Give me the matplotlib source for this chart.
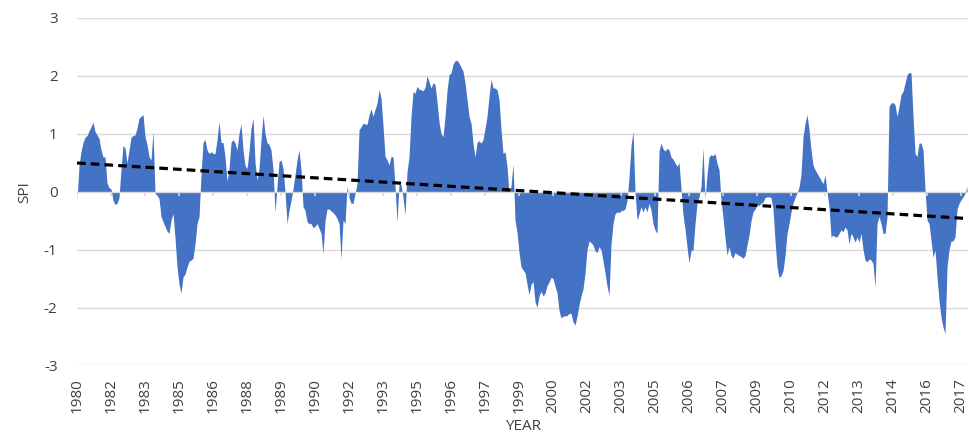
import numpy as np
import matplotlib
matplotlib.use("Agg")
import matplotlib.pyplot as plt

# monthly SPI values
spi = [
    -0.13, 0.45, 0.7, 0.85, 0.94, 0.97, 1.05, 1.12, 1.2, 1.04,
    0.98, 0.92, 0.72, 0.6, 0.6, 0.15, 0.07, 0.05, -0.15, -0.22,
    -0.2, -0.1, 0.4, 0.8, 0.75, 0.5, 0.72, 0.94, 0.97, 0.98,
    1.1, 1.27, 1.3, 1.33, 0.95, 0.81, 0.6, 0.55, 1.04, -0.03,
    -0.06, -0.12, -0.43, -0.52, -0.6, -0.68, -0.72, -0.49, -0.38, -0.8,
    -1.3, -1.6, -1.75, -1.47, -1.42, -1.3, -1.2, -1.18, -1.15, -0.9,
    -0.55, -0.43, 0.3, 0.85, 0.9, 0.72, 0.66, 0.69, 0.66, 0.66,
    0.9, 1.21, 0.85, 0.85, 0.6, 0.18, 0.4, 0.85, 0.9, 0.84,
    0.72, 1.01, 1.17, 0.72, 0.45, 0.4, 0.7, 1.1, 1.27, 0.5,
    0.2, 0.4, 0.9, 1.32, 1.0, 0.84, 0.82, 0.72, 0.38, -0.35,
    0.1, 0.52, 0.55, 0.4, 0.0, -0.55, -0.32, -0.15, 0.05, 0.3,
    0.55, 0.72, 0.38, -0.26, -0.32, -0.52, -0.55, -0.55, -0.62, -0.6,
    -0.55, -0.63, -0.72, -1.07, -0.5, -0.3, -0.3, -0.33, -0.36, -0.4,
    -0.46, -0.55, -1.16, -0.49, -0.55, 0.09, -0.1, -0.2, -0.2, -0.03,
    0.14, 1.07, 1.12, 1.18, 1.17, 1.16, 1.33, 1.43, 1.3, 1.42,
    1.53, 1.76, 1.62, 1.13, 0.61, 0.55, 0.46, 0.61, 0.6, 0.09,
    -0.52, 0.14, 0.12, -0.1, -0.4, 0.35, 0.6, 1.3,
    1.73, 1.7, 1.82, 1.77, 1.76, 1.74, 1.8, 2.0, 1.9, 1.79,
    1.88, 1.85, 1.55, 1.2, 1.0, 0.95, 1.3, 1.75, 2.02, 2.05,
    2.2, 2.26, 2.27, 2.22, 2.15, 2.08, 1.88, 1.59, 1.3, 1.18,
    0.84, 0.6, 0.85, 0.88, 0.84, 0.9, 1.1, 1.3, 1.65, 1.94,
    1.79, 1.79, 1.76, 1.59, 1.07, 0.66, 0.69, 0.43, -0.03, 0.1,
    0.48, -0.5, -0.7, -1.05, -1.3, -1.35,
    -1.4, -1.6, -1.78, -1.6, -1.55, -1.9, -2.0, -1.8, -1.72, -1.8,
    -1.75, -1.62, -1.56, -1.48, -1.5, -1.63, -1.75, -2.05, -2.18, -2.15,
    -2.14, -2.14, -2.1, -2.1, -2.25, -2.3, -2.15, -1.95, -1.8, -1.68,
    -1.4, -1.0, -0.85, -0.88, -0.92, -1.02, -1.05, -0.95, -1.0, -1.2,
    -1.4, -1.63, -1.79, -0.9, -0.55, -0.38, -0.35, -0.36, -0.33, -0.32,
    -0.3, -0.15, 0.25, 0.8, 1.04, 0.0, -0.49,
    -0.38, -0.26, -0.35, -0.26, -0.35, -0.2, -0.32, -0.55, -0.66, -0.72,
    0.7, 0.84, 0.74, 0.7, 0.75, 0.72, 0.6, 0.56, 0.5, 0.44,
    0.5, 0.05, -0.4, -0.65, -0.95, -1.23, -1.01, -1.01, -0.55, -0.2,
    -0.09, 0.09, 0.75, -0.12, 0.3, 0.6, 0.64, 0.62, 0.66, 0.49,
    0.38, -0.15, -0.45, -0.8, -1.1, -0.95, -1.1, -1.15, -1.05, -1.08,
    -1.1, -1.12, -1.15, -1.1, -0.92, -0.75, -0.5, -0.35, -0.3, -0.22,
    -0.24, -0.2, -0.18, -0.1, -0.09, -0.09, -0.1, -0.3, -0.85, -1.3,
    -1.48, -1.45, -1.36, -1.1, -0.72, -0.55, -0.35, -0.2, -0.1, -0.02,
    0.08, 0.3, 0.95, 1.18, 1.33, 1.07, 0.72, 0.46, 0.38, 0.32,
    0.26, 0.2, 0.14, 0.29, 0.0, -0.26, -0.78, -0.75, -0.78, -0.78,
    -0.72, -0.66, -0.69, -0.61, -0.66, -0.9, -0.72, -0.78, -0.87, -0.78,
    -0.87, -0.72, -1.0, -1.18, -1.21, -1.16, -1.18, -1.24, -1.65, -0.55,
    -0.43, -0.55, -0.72, -0.72, -0.43, 1.47, 1.53, 1.54, 1.5, 1.3,
    1.47, 1.68, 1.73, 1.88, 2.02, 2.06, 2.05, 1.3, 0.66, 0.61,
    0.84, 0.84, 0.72, 0.03, -0.49, -0.55, -0.84, -1.13, -1.01, -1.47,
    -1.88, -2.17, -2.34, -2.45, -1.3, -1.0, -0.85, -0.85, -0.78, -0.3,
    -0.2, -0.14, -0.09, -0.03, 0.09,
]

year_labels = ['1980', '1982', '1983', '1985', '1986', '1988', '1989', '1990',
               '1992', '1993', '1995', '1996', '1997', '1999', '2000', '2002',
               '2003', '2005', '2006', '2007', '2009', '2010', '2012', '2013',
               '2014', '2016', '2017']
y_ticks = [-3, -2, -1, 0, 1, 2, 3]

BLUE = '#4472C4'
GRID = '#D9D9D9'
TEXT = '#404040'
LABEL_STEP = 17  # months between axis labels

plt.rcParams['font.family'] = ['Open Sans', 'DejaVu Sans']

months = np.arange(len(spi))
values = np.array(spi)

fig = plt.figure(figsize=(9.69, 4.45), dpi=100)
ax = fig.add_axes([0.0795, 0.1787, 0.9195, 0.781])

for y in y_ticks:
    if y != 0:
        ax.axhline(y, color=GRID, lw=1.0, zorder=0)

ax.fill_between(months, values, 0, color=BLUE, lw=0, zorder=2)

# horizontal axis at zero, drawn over the area
ax.axhline(0, color=GRID, lw=1.0, zorder=2.5)
tick_pos = np.arange(len(year_labels)) * LABEL_STEP
ax.vlines(tick_pos, 0, -0.08, color=GRID, lw=1.2, zorder=2.5)

# linear trendline
slope, intercept = np.polyfit(months, values, 1)
ax.plot(months, slope * months + intercept, color='black', lw=2.3,
        dashes=(2.7, 1.6), zorder=3)

ax.set_xlim(0, 445.5)
ax.set_ylim(-3, 3)
ax.set_yticks(y_ticks)
ax.set_yticklabels([str(t) for t in y_ticks], fontsize=11, color=TEXT)
ax.set_xticks(tick_pos)
ax.set_xticklabels(year_labels, rotation=90, fontsize=11, color=TEXT)
ax.tick_params(axis='both', length=0)
ax.tick_params(axis='y', pad=14)
ax.tick_params(axis='x', pad=9)
for s in ax.spines.values():
    s.set_visible(False)

ax.set_ylabel('SPI', fontsize=11, color=TEXT, labelpad=8)
ax.set_xlabel('YEAR', fontsize=11, color=TEXT, labelpad=4)

fig.savefig('out.png', dpi=100)
